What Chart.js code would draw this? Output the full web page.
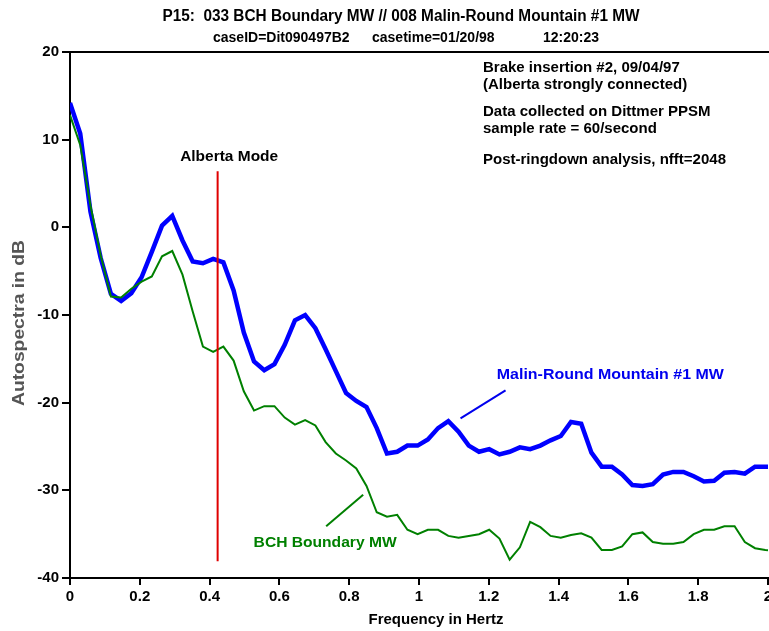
<!DOCTYPE html>
<html>
<head>
<meta charset="utf-8">
<script src="https://cdn.jsdelivr.net/npm/chart.js@4.4.1/dist/chart.umd.min.js"></script>
<style>
  html, body { margin: 0; padding: 0; background: #fff; }
  #wrap { width: 769px; height: 631px; position: relative; }
</style>
</head>
<body>
<div id="wrap"><canvas id="spectrum"></canvas></div>
<script>
// FFT bin frequencies (fs = 60/s, nfft = 2048), Hz
const freqHz = [
  0, 0.0293, 0.0586, 0.0879, 0.1172, 0.1465, 0.1758, 0.2051, 0.2344, 0.2637,
  0.2930, 0.3223, 0.3516, 0.3809, 0.4102, 0.4395, 0.4688, 0.4980, 0.5273, 0.5566,
  0.5859, 0.6152, 0.6445, 0.6738, 0.7031, 0.7324, 0.7617, 0.7910, 0.8203, 0.8496,
  0.8789, 0.9082, 0.9375, 0.9668, 0.9961, 1.0254, 1.0547, 1.0840, 1.1133, 1.1426,
  1.1719, 1.2012, 1.2305, 1.2598, 1.2891, 1.3184, 1.3477, 1.3770, 1.4063, 1.4355,
  1.4648, 1.4941, 1.5234, 1.5527, 1.5820, 1.6113, 1.6406, 1.6699, 1.6992, 1.7285,
  1.7578, 1.7871, 1.8164, 1.8457, 1.8750, 1.9043, 1.9336, 1.9629, 1.9922, 2.0215
];

// Malin-Round Mountain #1 MW autospectrum, dB
const malinDb = [
  14.2, 10.7, 1.8, -3.5, -7.6, -8.4, -7.5, -5.7, -2.8, 0.2,
  1.3, -1.5, -3.9, -4.1, -3.6, -4.0, -7.2, -12.0, -15.3, -16.3,
  -15.6, -13.4, -10.6, -10.0, -11.5, -13.9, -16.4, -18.9, -19.8, -20.5,
  -22.9, -25.8, -25.6, -24.9, -24.9, -24.2, -22.9, -22.1, -23.3, -24.9,
  -25.6, -25.3, -25.9, -25.6, -25.1, -25.3, -24.9, -24.3, -23.8, -22.2,
  -22.4, -25.7, -27.3, -27.3, -28.2, -29.4, -29.5, -29.3, -28.2, -27.9,
  -27.9, -28.4, -29.0, -28.9, -28.0, -27.9, -28.1, -27.3, -27.3, -27.3
];

// BCH Boundary MW autospectrum, dB
const bchDb = [
  12.8, 9.4, 2.5, -3.2, -7.9, -8.0, -7.0, -6.2, -5.6, -3.3,
  -2.7, -5.4, -9.6, -13.6, -14.2, -13.6, -15.2, -18.7, -20.9, -20.4,
  -20.4, -21.7, -22.5, -22.0, -22.6, -24.5, -25.8, -26.6, -27.5, -29.5,
  -32.5, -33.0, -32.8, -34.5, -35.0, -34.5, -34.5, -35.2, -35.4, -35.2,
  -35.0, -34.5, -35.5, -37.9, -36.5, -33.6, -34.2, -35.2, -35.4, -35.1,
  -34.9, -35.4, -36.8, -36.8, -36.4, -35.0, -34.8, -35.9, -36.1, -36.1,
  -35.9, -35.0, -34.5, -34.5, -34.1, -34.1, -35.9, -36.6, -36.8, -36.9
];

// Alberta mode marker (Hz) and its vertical extent (dB)
const albertaHz = 0.423;
const albertaSpan = [6.4, -38.1];

// leader lines from the curve labels, [Hz, dB] end points
const malinLeader = [[1.119, -21.8], [1.248, -18.6]];
const bchLeader = [[0.734, -34.1], [0.840, -30.5]];

const xTicks = [0, 0.2, 0.4, 0.6, 0.8, 1, 1.2, 1.4, 1.6, 1.8, 2];
const yTicks = [20, 10, 0, -10, -20, -30, -40];

const FONT = "'Liberation Sans', Arial, Helvetica, sans-serif";

function pts(xs, ys) {
    return ys.map((v, i) => ({ x: xs[i], y: v }));
}

// draw text squeezed/stretched to a given width
function fitText(ctx, text, x, y, width, align) {
    const m = ctx.measureText(text).width;
    ctx.save();
    ctx.translate(x, y);
    ctx.scale(width / m, 1);
    ctx.textAlign = align;
    ctx.fillText(text, 0, 0);
    ctx.restore();
}

// Titles, notes, frame and curve labels
const decorPlugin = {
    id: 'decor',
    afterDraw(chart) {
        const { ctx, chartArea: a, scales: { x, y } } = chart;
        ctx.save();

        // top frame line
        ctx.strokeStyle = '#000';
        ctx.lineWidth = 2;
        ctx.beginPath();
        ctx.moveTo(a.left - 1, a.top);
        ctx.lineTo(a.right + 1, a.top);
        ctx.stroke();

        ctx.fillStyle = '#000';
        ctx.textBaseline = 'middle';

        // title
        ctx.font = 'bold 16px ' + FONT;
        fitText(ctx, 'P15:  033 BCH Boundary MW // 008 Malin-Round Mountain #1 MW', 401, 17, 477, 'center');
        ctx.font = 'bold 14px ' + FONT;
        ctx.textAlign = 'left';
        ctx.fillText('caseID=Dit090497B2', 213, 38);
        ctx.fillText('casetime=01/20/98', 372, 38);
        ctx.fillText('12:20:23', 543, 38);

        // notes block
        ctx.font = 'bold 15px ' + FONT;
        ctx.fillText('Brake insertion #2, 09/04/97', 483, 68);
        ctx.fillText('(Alberta strongly connected)', 483, 85);
        ctx.fillText('Data collected on Dittmer PPSM', 483, 112);
        ctx.fillText('sample rate = 60/second', 483, 129);
        ctx.fillText('Post-ringdown analysis, nfft=2048', 483, 160);

        // axis titles
        ctx.textAlign = 'center';
        ctx.fillText('Frequency in Hertz', 436, 620);
        ctx.save();
        ctx.translate(20, 323);
        ctx.rotate(-Math.PI / 2);
        ctx.fillStyle = '#555';
        ctx.font = 'bold 16px ' + FONT;
        fitText(ctx, 'Autospectra in dB', 0, 0, 166, 'center');
        ctx.restore();

        // curve labels
        ctx.font = 'bold 15.5px ' + FONT;
        fitText(ctx, 'Alberta Mode', x.getPixelForValue(0.456), y.getPixelForValue(8.1), 98, 'center');
        ctx.fillStyle = '#0000ee';
        fitText(ctx, 'Malin-Round Mountain #1 MW', x.getPixelForValue(1.223), y.getPixelForValue(-16.8), 227, 'left');
        ctx.fillStyle = '#008000';
        fitText(ctx, 'BCH Boundary MW', x.getPixelForValue(0.731), y.getPixelForValue(-36.0), 143, 'center');

        ctx.restore();
    }
};

const ctx = document.getElementById('spectrum').getContext('2d');
new Chart(ctx, {
    type: 'line',
    data: {
        datasets: [
            {
                label: 'Alberta Mode',
                data: [{ x: albertaHz, y: albertaSpan[0] }, { x: albertaHz, y: albertaSpan[1] }],
                borderColor: '#e00000',
                borderWidth: 2,
                pointRadius: 0,
                order: 1
            },
            {
                label: 'BCH Boundary MW',
                data: pts(freqHz, bchDb),
                borderColor: '#008000',
                borderWidth: 2,
                pointRadius: 0,
                order: 2
            },
            {
                label: 'BCH leader',
                data: bchLeader.map(p => ({ x: p[0], y: p[1] })),
                borderColor: '#008000',
                borderWidth: 2,
                pointRadius: 0,
                order: 2
            },
            {
                label: 'Malin leader',
                data: malinLeader.map(p => ({ x: p[0], y: p[1] })),
                borderColor: '#0000ee',
                borderWidth: 2,
                pointRadius: 0,
                order: 3
            },
            {
                label: 'Malin-Round Mountain #1 MW',
                data: pts(freqHz, malinDb),
                borderColor: '#0000ff',
                borderWidth: 4.5,
                pointRadius: 0,
                order: 3
            }
        ]
    },
    options: {
        responsive: true,
        maintainAspectRatio: false,
        animation: false,
        devicePixelRatio: 1,
        layout: { padding: { top: 52, right: 1, left: 0, bottom: 0 }, autoPadding: false },
        plugins: { legend: { display: false }, tooltip: { enabled: false } },
        scales: {
            x: {
                type: 'linear',
                min: 0,
                max: 2,
                afterFit: s => { s.height = 53; s.paddingLeft = 0; s.paddingRight = 0; },
                afterBuildTicks: s => { s.ticks = xTicks.map(v => ({ value: v })); },
                ticks: {
                    color: '#000',
                    padding: 3,
                    maxRotation: 0,
                    font: { family: FONT, weight: 'bold', size: 15 },
                    callback: v => String(Number(v.toFixed(1)))
                },
                grid: { drawOnChartArea: false, color: '#000', lineWidth: 2, tickLength: 7 },
                border: { color: '#000', width: 2 }
            },
            y: {
                min: -40,
                max: 20,
                afterFit: s => { s.width = 70; s.paddingTop = 0; s.paddingBottom = 0; },
                afterBuildTicks: s => { s.ticks = yTicks.map(v => ({ value: v })); },
                ticks: {
                    color: '#000',
                    padding: 3,
                    font: { family: FONT, weight: 'bold', size: 15 }
                },
                grid: { drawOnChartArea: false, color: '#000', lineWidth: 2, tickLength: 8 },
                border: { color: '#000', width: 2 }
            }
        }
    },
    plugins: [decorPlugin]
});
</script>
</body>
</html>
